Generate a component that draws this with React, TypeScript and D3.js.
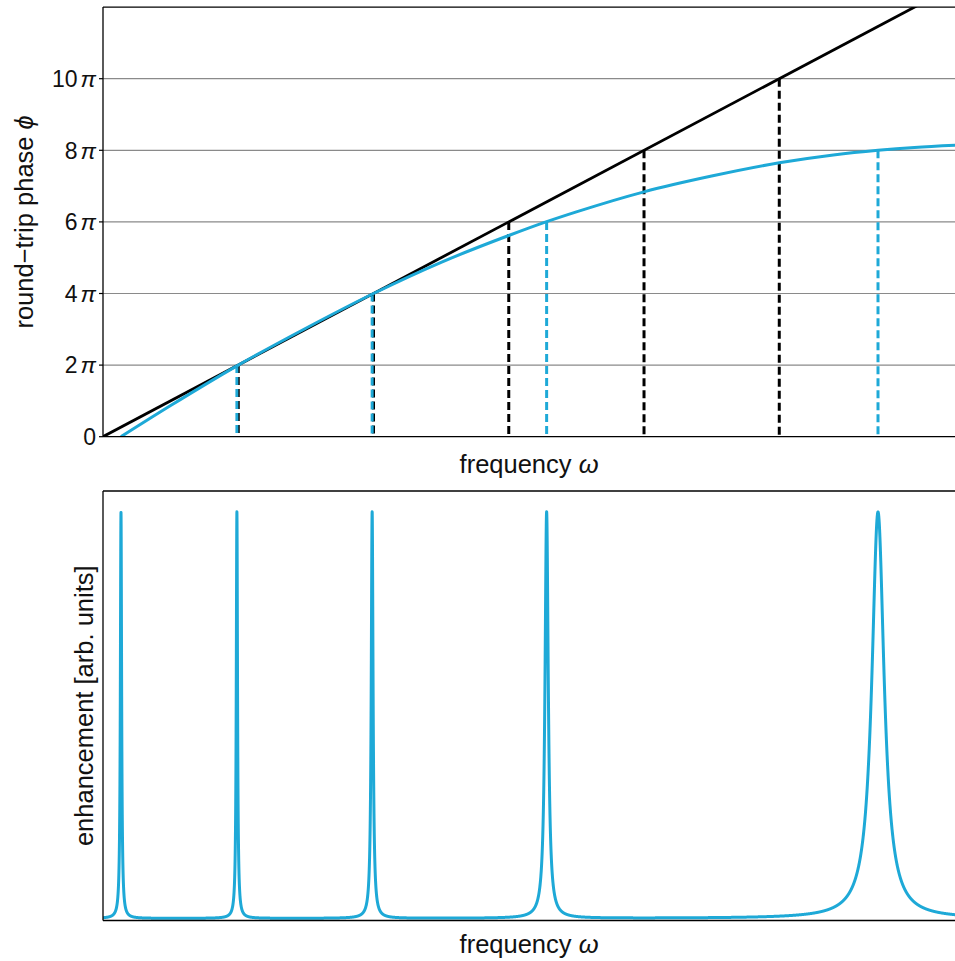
import React from "react";
import * as d3 from "d3";

// ---------- data ----------
const omegaDomain = [0, 6.3];
const phaseDomainPi = [0, 12];

// dispersive round-trip phase (blue), in units of pi
const phaseOmega = [0.133, 0.5, 1.0, 1.5, 2.0, 2.5, 3.0, 3.275, 3.5, 4.0, 4.5, 5.0, 5.4, 5.73, 6.0, 6.3];
const phasePi = [0, 0.87, 2.0, 3.03, 4.0, 4.87, 5.62, 6.0, 6.28, 6.84, 7.28, 7.65, 7.87, 8.0, 8.08, 8.14];

// non-dispersive phase (black)
const linearOmega = [0, 6.3];
const linearPi = [0, 12.6];

// resonance markers
const blackMarkOmega = [1, 2, 3, 4, 5];
const blackMarkPi = [2, 4, 6, 8, 10];
const blueMarkOmega = [0.99, 1.99, 3.28, 5.73];
const blueMarkPi = [2, 4, 6, 8];

const yTicksPi = [0, 2, 4, 6, 8, 10];

// enhancement peaks (bottom)
const peakOmega = [0.133, 0.99, 1.99, 3.28, 5.73];
const peakFwhm = [0.011, 0.011, 0.016, 0.029, 0.11];
const peakHeight = [1, 1, 1, 1, 1];
const enhancementBaseline = 0.005;
const enhancementDomain = [0, 1.0566];

// ---------- layout ----------
const W = 955;
const H = 961;
const left = 103;
const right = 955.1;
const top1 = 7.1;
const bottom1 = 436.7;
const top2 = 491;
const bottom2 = 920.5;

const BLUE = "#1ea9d7";
const FONT = "'Liberation Sans', Arial, Helvetica, sans-serif";

export default function App() {
  const x = d3.scaleLinear().domain(omegaDomain).range([left, right]);
  const y1 = d3.scaleLinear().domain(phaseDomainPi).range([bottom1, top1]);
  const y2 = d3.scaleLinear().domain(enhancementDomain).range([bottom2, top2]);

  const phasePts: [number, number][] = phaseOmega.map((w, i) => [w, phasePi[i]]);
  const linPts: [number, number][] = linearOmega.map((w, i) => [w, linearPi[i]]);

  const bluePath =
    d3
      .line<[number, number]>()
      .x((d) => x(d[0]))
      .y((d) => y1(d[1]))
      .curve(d3.curveMonotoneX)(phasePts) || "";
  const blackPath =
    d3
      .line<[number, number]>()
      .x((d) => x(d[0]))
      .y((d) => y1(d[1]))(linPts) || "";

  // enhancement curve: sum of Lorentzian resonances at the read-off peaks
  const samples = d3.range(omegaDomain[0], omegaDomain[1] + 1e-9, 0.0004);
  const enh = samples.map((w) => {
    let v = enhancementBaseline;
    peakOmega.forEach((c, i) => {
      const hw = peakFwhm[i] / 2;
      const t = (w - c) / hw;
      v += peakHeight[i] / (1 + t * t);
    });
    return [w, v] as [number, number];
  });
  const enhPath =
    d3
      .line<[number, number]>()
      .x((d) => x(d[0]))
      .y((d) => y2(d[1]))(enh) || "";

  const tickFont = 23;
  const labelFont = 25.5;
  const dash = "8,4";

  return (
    <svg
      width={W}
      height={H}
      style={{ position: "absolute", left: 0, top: 0, background: "#fff" }}
      fontFamily={FONT}
    >
      <defs>
        <clipPath id="clip1">
          <rect x={left} y={top1} width={right - left} height={bottom1 - top1} />
        </clipPath>
        <clipPath id="clip2">
          <rect x={left} y={top2} width={right - left} height={bottom2 - top2} />
        </clipPath>
      </defs>

      {/* ---------- top panel ---------- */}
      {yTicksPi
        .filter((t) => t > 0)
        .map((t) => (
          <line
            key={"g" + t}
            x1={left}
            x2={right}
            y1={y1(t)}
            y2={y1(t)}
            stroke="#8a8a8a"
            strokeWidth={1.2}
          />
        ))}
      {yTicksPi.map((t) => (
        <g key={"t" + t}>
          <line x1={left - 4} x2={left} y1={y1(t)} y2={y1(t)} stroke="#000" strokeWidth={1.2} />
          <text x={96} y={y1(t)} dy="0.36em" textAnchor="end" fontSize={tickFont} fill="#111">
            {t === 0 ? (
              "0"
            ) : (
              <>
                {String(t)}
                <tspan dx={3} fontStyle="italic">
                  π
                </tspan>
              </>
            )}
          </text>
        </g>
      ))}

      <g clipPath="url(#clip1)">
        {blackMarkOmega.map((w, i) => (
          <line
            key={"bm" + i}
            x1={x(w)}
            x2={x(w)}
            y1={y1(blackMarkPi[i])}
            y2={y1(0)}
            stroke="#000"
            strokeWidth={3}
            strokeDasharray={dash}
          />
        ))}
        {blueMarkOmega.map((w, i) => (
          <line
            key={"cm" + i}
            x1={x(w)}
            x2={x(w)}
            y1={y1(blueMarkPi[i])}
            y2={y1(0)}
            stroke={BLUE}
            strokeWidth={3}
            strokeDasharray={dash}
          />
        ))}
        <path d={blackPath} fill="none" stroke="#000" strokeWidth={2.8} />
        <path d={bluePath} fill="none" stroke={BLUE} strokeWidth={3} />
      </g>

      <line x1={left} x2={left} y1={top1} y2={bottom1} stroke="#000" strokeWidth={1.3} />
      <line x1={left} x2={right + 2} y1={top1} y2={top1} stroke="#000" strokeWidth={1.3} />
      <line x1={left} x2={right + 2} y1={bottom1} y2={bottom1} stroke="#000" strokeWidth={1.3} />

      <text x={(left + right) / 2} y={473} textAnchor="middle" fontSize={labelFont} fill="#111">
        frequency <tspan fontStyle="italic">ω</tspan>
      </text>
      <text
        transform={`translate(33, ${(top1 + bottom1) / 2}) rotate(-90)`}
        textAnchor="middle"
        fontSize={labelFont}
        fill="#111"
      >
        round−trip phase <tspan fontStyle="italic">ϕ</tspan>
      </text>

      {/* ---------- bottom panel ---------- */}
      <g clipPath="url(#clip2)">
        <path d={enhPath} fill="none" stroke={BLUE} strokeWidth={3} strokeLinejoin="round" />
      </g>
      <line x1={left} x2={left} y1={top2} y2={bottom2} stroke="#000" strokeWidth={1.3} />
      <line x1={left} x2={right + 2} y1={top2} y2={top2} stroke="#000" strokeWidth={1.3} />
      <line x1={left} x2={right + 2} y1={bottom2} y2={bottom2} stroke="#000" strokeWidth={1.3} />

      <text x={(left + right) / 2} y={953} textAnchor="middle" fontSize={labelFont} fill="#111">
        frequency <tspan fontStyle="italic">ω</tspan>
      </text>
      <text
        transform={`translate(93, ${(top2 + bottom2) / 2}) rotate(-90)`}
        textAnchor="middle"
        fontSize={labelFont}
        fill="#111"
      >
        enhancement [arb. units]
      </text>
    </svg>
  );
}
